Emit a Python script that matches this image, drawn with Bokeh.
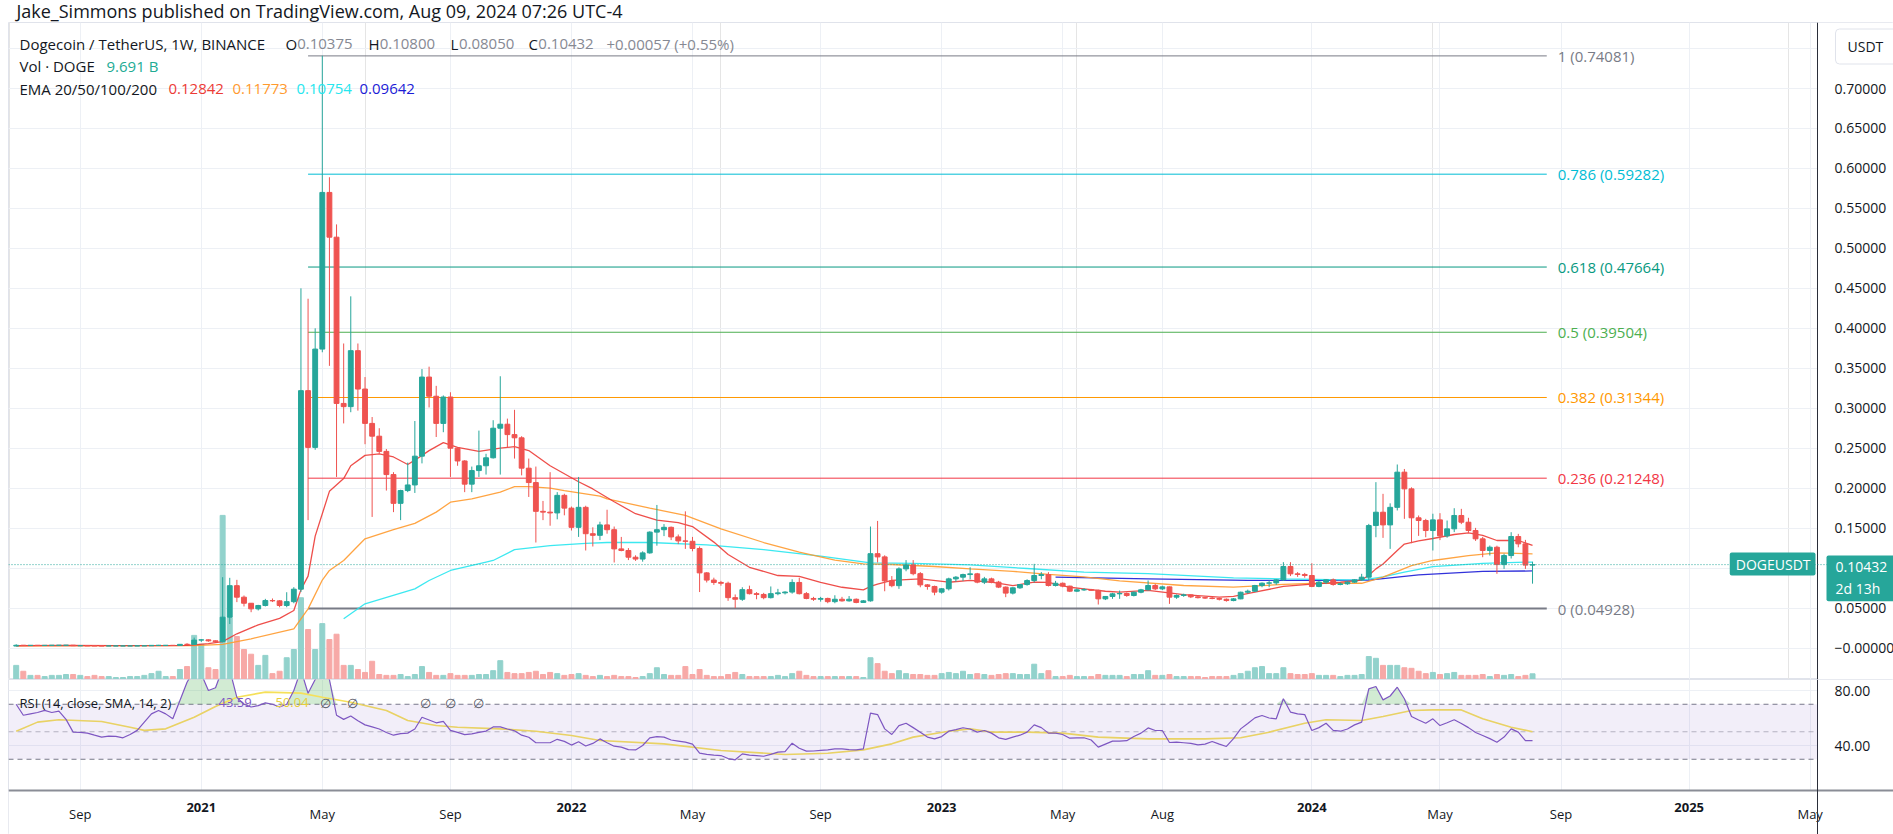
import pandas as pd
from bokeh.plotting import figure
from bokeh.models import (Range1d, FixedTicker, PrintfTickFormatter, Grid, Span,
                          BoxAnnotation, Label, ColumnDataSource)
from bokeh.layouts import column
from bokeh.embed import file_html
from bokeh.resources import INLINE
from bokeh.core.properties import value

# ----------------------------------------------------------------- data
first_week = "2020-07-06"          # weekly bars (Monday open), bar index 1
opens = [
    .00245, .00340, .00320, .00330, .00320, .00330, .00340, .00340, .00350, .00290,
    .00290, .00280, .00270, .00260, .00260, .00260, .00260, .00260, .00270, .00280,
    .00330, .00330, .00330, .00320, .00460, .00450, .00990, .01020, .00900, .00790,
    .03860, .07800, .06360, .05600, .04900, .05320, .05940, .05900, .05320, .05800,
    .07360, .32200, .25100, .37400, .57000, .51400, .30600, .30200, .37200, .32400,
    .28100, .26500, .24600, .21700, .18100, .19700, .20400, .24000, .33900, .31500,
    .28100, .31400, .25000, .23400, .20500, .22200, .22800, .23800, .27500, .28000,
    .26700, .26300, .22500, .20700, .17100, .17000, .16900, .19100, .17500, .15100,
    .17600, .14300, .14100, .15400, .14800, .12400, .12200, .11360, .11130, .11900,
    .14500, .14800, .15100, .13900, .13400, .13350, .12450, .09400, .08500, .08200,
    .08100, .06300, .06100, .07300, .06800, .06700, .06300, .06800, .06900, .07000,
    .08200, .06800, .06200, .06100, .06200, .05800, .06100, .05900, .06100, .05700,
    .05900, .11800, .11400, .08400, .07800, .09900, .10400, .09300, .07900, .07700,
    .06990, .07410, .08650, .08860, .09190, .09280, .08240, .08650, .08240, .07620,
    .06870, .07530, .07940, .08440, .09070, .09190, .07820, .08100, .07740, .07110,
    .07280, .07300, .07220, .06150, .06450, .06780, .06820, .06570, .06980, .07280,
    .07820, .07400, .07650, .06360, .06570, .06650, .06400, .06300, .06250, .06200,
    .06100, .05940, .06150, .06980, .07110, .07820, .08110, .08150, .08530, .10200,
    .09280, .09200, .09070, .07700, .08240, .08530, .07950, .08030, .08240, .08530,
    .08860, .15320, .16990, .15400, .17600, .22000, .19910, .16290, .15950, .14700,
    .16030, .14030, .14910, .16580, .15740, .14700, .13660, .12200, .12610, .10440,
    .11570, .13950, .13030, .10375]
highs = [
    .00470, .00370, .00340, .00370, .00340, .00350, .00370, .00360, .00370, .00300,
    .00300, .00290, .00280, .00270, .00270, .00270, .00270, .00280, .00290, .00350,
    .00390, .00350, .00340, .00480, .00600, .01300, .01120, .01080, .00940, .08860,
    .08780, .08530, .06570, .05630, .05400, .06150, .06200, .06000, .06980, .07610,
    .45000, .43700, .40000, .74100, .58900, .53000, .38100, .44000, .38100, .33900,
    .28900, .27500, .24900, .22000, .19800, .23200, .28400, .34900, .35200, .32800,
    .31600, .32000, .25100, .23500, .22700, .27200, .24300, .28500, .34000, .28700,
    .29800, .26500, .23700, .22700, .18400, .22000, .19500, .19300, .17700, .21400,
    .17800, .15100, .15800, .17300, .15200, .13900, .12500, .11600, .12100, .14600,
    .17900, .15500, .15200, .14200, .17100, .13900, .12700, .09500, .08800, .08400,
    .08300, .06700, .07600, .07800, .07000, .06900, .07700, .07400, .07100, .08600,
    .08800, .07000, .06400, .06400, .06300, .06600, .06400, .06500, .06200, .06000,
    .15200, .15900, .11600, .09000, .10100, .11000, .11000, .09500, .08000, .07800,
    .07500, .08800, .09000, .09300, .10100, .09400, .08900, .08800, .08400, .07700,
    .07600, .08000, .08600, .10530, .09500, .09490, .08400, .08200, .07800, .07450,
    .07500, .07400, .07300, .06500, .06900, .07190, .06950, .07050, .07400, .08450,
    .08030, .07800, .07700, .06700, .06800, .06700, .06500, .06400, .06400, .06300,
    .06200, .06250, .07050, .07300, .07900, .08200, .08450, .08600, .10740, .10740,
    .09500, .09400, .10610, .08400, .08600, .08700, .08200, .08350, .08600, .09280,
    .15530, .20750, .19290, .18100, .22960, .22400, .20100, .16580, .16160, .16800,
    .16870, .15950, .17490, .17410, .16290, .15030, .13900, .12820, .12800, .11800,
    .14490, .14280, .13530, .10800]
lows = [
    .00240, .00310, .00310, .00300, .00300, .00310, .00320, .00330, .00270, .00270,
    .00270, .00250, .00250, .00250, .00250, .00250, .00250, .00250, .00260, .00270,
    .00290, .00310, .00310, .00320, .00400, .00440, .00760, .00780, .00750, .00720,
    .03000, .05740, .05200, .04480, .04700, .05200, .05750, .05100, .05100, .05600,
    .07000, .16000, .24800, .37000, .35300, .21400, .28100, .29500, .29700, .25500,
    .16400, .24300, .19700, .17000, .16000, .19500, .19400, .23100, .30100, .26400,
    .27000, .21400, .22800, .19500, .19500, .21400, .21700, .23700, .21700, .25100,
    .23700, .21600, .18900, .13200, .16000, .15300, .16100, .16600, .14700, .13900,
    .12200, .12700, .13500, .14300, .10700, .12100, .11000, .10900, .10800, .11800,
    .12800, .14000, .13500, .13000, .12400, .12100, .07000, .08200, .07900, .07800,
    .05900, .05000, .05900, .06700, .06100, .06100, .06200, .06600, .06700, .06800,
    .06700, .06100, .05900, .05800, .05600, .05600, .05800, .05800, .05600, .05700,
    .05800, .10700, .07100, .07600, .07400, .09600, .09100, .07600, .07300, .06600,
    .06800, .07200, .08300, .08400, .08600, .08100, .08000, .08100, .07500, .06360,
    .06700, .07400, .07800, .08200, .08600, .07700, .07700, .07600, .07000, .07000,
    .07150, .07150, .05440, .06000, .06150, .06150, .06400, .06450, .06850, .07200,
    .07250, .07250, .05520, .06150, .06400, .06250, .06200, .06150, .06100, .05950,
    .05800, .05850, .06100, .06800, .07000, .07600, .07610, .07900, .08400, .09000,
    .08900, .08800, .07610, .07600, .08000, .07800, .07850, .07900, .08150, .08400,
    .08500, .13860, .13780, .12400, .17210, .16160, .13110, .14030, .13860, .12200,
    .13500, .13800, .14500, .15500, .14400, .13400, .11360, .11570, .09280, .09900,
    .11200, .12600, .09900, .08050]
closes = [
    .00340, .00320, .00330, .00320, .00330, .00340, .00340, .00350, .00290, .00290,
    .00280, .00270, .00260, .00260, .00260, .00260, .00260, .00270, .00280, .00330,
    .00330, .00330, .00320, .00460, .00450, .00990, .01020, .00900, .00790, .03860,
    .07800, .06360, .05600, .04900, .05320, .05940, .05900, .05320, .05800, .07360,
    .32200, .25100, .37400, .57000, .51400, .30600, .30200, .37200, .32400, .28100,
    .26500, .24600, .21700, .18100, .19700, .20400, .24000, .33900, .31500, .28100,
    .31400, .25000, .23400, .20500, .22200, .22800, .23800, .27500, .28000, .26700,
    .26300, .22500, .20700, .17100, .17000, .16900, .19100, .17500, .15100, .17600,
    .14300, .14100, .15400, .14800, .12400, .12200, .11360, .11130, .11900, .14500,
    .14800, .15100, .13900, .13400, .13350, .12450, .09400, .08500, .08200, .08100,
    .06300, .06100, .07300, .06800, .06700, .06300, .06800, .06900, .07000, .08200,
    .06800, .06200, .06100, .06200, .05800, .06100, .05900, .06100, .05700, .05900,
    .11800, .11400, .08400, .07800, .09900, .10400, .09300, .07900, .07700, .06990,
    .07410, .08650, .08860, .09190, .09280, .08240, .08650, .08240, .07620, .06870,
    .07530, .07940, .08440, .09070, .09190, .07820, .08100, .07740, .07110, .07280,
    .07300, .07220, .06150, .06450, .06780, .06820, .06570, .06980, .07280, .07820,
    .07400, .07650, .06360, .06570, .06650, .06400, .06300, .06250, .06200, .06100,
    .05940, .06150, .06980, .07110, .07820, .08110, .08150, .08530, .10200, .09280,
    .09200, .09070, .07700, .08240, .08530, .07950, .08030, .08240, .08530, .08860,
    .15320, .16990, .15400, .17600, .22000, .19910, .16290, .15950, .14700, .16030,
    .14030, .14910, .16580, .15740, .14700, .13660, .12200, .12610, .10440, .11570,
    .13950, .13030, .10375, .10432]
volumes_b = [
    24, 14, 7, 7, 5, 7, 7, 8.5, 8.5, 7,
    5, 7, 5, 5, 3.4, 3.4, 5, 5, 7, 10,
    14, 5, 5, 17, 22, 75, 60, 20, 17, 279,
    105, 73, 51, 43, 24, 41, 10, 14, 37, 51,
    139, 85, 51, 95, 68, 77, 24, 24, 17, 12,
    31, 8.5, 7, 7, 8.5, 5, 8.5, 22, 12, 7,
    7, 10, 7, 7, 7, 8.5, 8.5, 15, 32, 12,
    10, 10, 12, 14, 8.5, 12, 10, 7, 8.5, 10,
    7, 5, 7, 5, 7, 5, 5, 3.4, 5, 10,
    20, 8.5, 7, 7, 22, 8.5, 17, 7, 5, 5,
    8.5, 12, 8.5, 5, 5, 5, 5, 7, 5, 10,
    14, 7, 5, 5, 5, 5, 5, 5, 5, 3.4,
    37, 27, 14, 10, 15, 10, 8.5, 8.5, 7, 7,
    10, 12, 10, 14, 8.5, 10, 8.5, 7, 8.5, 10,
    10, 8.5, 8.5, 26, 10, 15, 5, 5, 7, 5,
    5, 5, 8.5, 7, 7, 7, 5, 8.5, 8.5, 15,
    7, 7, 8.5, 5, 5, 5, 5, 3.4, 5, 5,
    5, 7, 10, 14, 20, 22, 10, 10, 20, 10,
    8.5, 8.5, 10, 7, 7, 7, 5, 7, 7, 8.5,
    39, 36, 24, 24, 24, 20, 19, 14, 10, 12,
    8.5, 10, 12, 7, 7, 7, 8.5, 5, 8.5, 7,
    8.5, 5, 7, 9.691]

ema20_idx = [1, 8, 15, 22, 25, 26, 28, 30, 32, 35, 38, 40, 41, 42, 43, 45, 47, 48, 50, 52,
             54, 56, 57, 59, 61, 63, 66, 69, 71, 73, 76, 80, 82, 85, 88, 91, 94, 96, 99, 101,
             104, 108, 111, 114, 117, 120, 121, 122, 124, 128, 132, 135, 138, 141, 144, 146,
             149, 151, 154, 156, 160, 165, 170, 172, 175, 179, 183, 187, 190, 191, 192, 193,
             195, 196, 198, 200, 203, 205, 207, 209, 212, 214]
ema20_val = [0.0028, 0.0032, 0.0029, 0.0030, 0.0034, 0.0040, 0.0055, 0.0080, 0.0178, 0.029,
             0.037, 0.047, 0.073, 0.090, 0.140, 0.196, 0.212, 0.228, 0.241, 0.243,
             0.239, 0.2296, 0.235, 0.247, 0.257, 0.251, 0.246, 0.250, 0.252, 0.247,
             0.228, 0.208, 0.199, 0.183, 0.168, 0.160, 0.157, 0.152, 0.1325, 0.117,
             0.101, 0.0907, 0.0895, 0.082, 0.076, 0.0728, 0.077, 0.080, 0.0845, 0.0866,
             0.0823, 0.0845, 0.0823, 0.078, 0.0823, 0.082, 0.076, 0.074, 0.071, 0.0698,
             0.0721, 0.0669, 0.0636, 0.0645, 0.0698, 0.077, 0.080, 0.0823, 0.085, 0.091,
             0.099, 0.105, 0.122, 0.130, 0.134, 0.137, 0.142, 0.144, 0.141, 0.1345,
             0.1345, 0.12842]
ema50_idx = [1, 15, 26, 30, 34, 40, 42, 44, 45, 47, 50, 54, 57, 60, 62, 65, 69, 71, 73, 76,
             78, 83, 84, 90, 95, 100, 106, 111, 116, 120, 124, 130, 135, 141, 146, 151, 156,
             165, 172, 179, 184, 190, 193, 197, 200, 205, 209, 214]
ema50_val = [0.0027, 0.0029, 0.0031, 0.0045, 0.0115, 0.024, 0.049, 0.085, 0.097, 0.1095,
             0.1366, 0.148, 0.156, 0.170, 0.1824, 0.1866, 0.195, 0.202, 0.202, 0.200,
             0.197, 0.190, 0.1866, 0.175, 0.166, 0.149, 0.132, 0.120, 0.110, 0.1053,
             0.1045, 0.102, 0.099, 0.096, 0.092, 0.089, 0.0840, 0.0782, 0.0761, 0.0795,
             0.081, 0.081, 0.0886, 0.103, 0.1095, 0.1157, 0.119, 0.11773]
ema100_idx = [47, 50, 57, 59, 62, 67, 68, 71, 76, 81, 84, 90, 98, 106, 114, 121, 127, 135,
              143, 151, 160, 172, 179, 190, 193, 196, 200, 207, 214]
ema100_val = [0.0365, 0.0553, 0.074, 0.0845, 0.097, 0.1074, 0.1095, 0.123, 0.128, 0.131,
              0.132, 0.132, 0.129, 0.123, 0.115, 0.1065, 0.106, 0.104, 0.0995, 0.095,
              0.093, 0.0878, 0.0866, 0.085, 0.089, 0.0949, 0.1019, 0.106, 0.10754]
ema200_idx = [147, 160, 174, 184, 191, 198, 207, 214]
ema200_val = [0.0886, 0.0866, 0.0845, 0.0845, 0.085, 0.0916, 0.0958, 0.09642]

rsi_val = [
    70, 62, 63, 64, 65.5, 64, 65, 59, 49.7, 49.5,
    49, 47.5, 46.1, 46.8, 46.6, 45.6, 48, 51, 57, 63,
    65.5, 63, 59.4, 72.7, 86, 95, 92, 80, 82, 96,
    95, 75, 70, 68, 69, 71, 70, 68, 70, 80,
    95, 78, 88, 95, 88, 62, 59, 61.5, 58, 55,
    53.5, 52, 49.5, 47.5, 48.6, 49, 52, 60.5, 58.5, 56.5,
    57.5, 51, 49.5, 47.9, 48.5, 49.5, 50.5, 53.5, 53.5, 52,
    50.7, 47.5, 46, 42, 42, 42, 44.5, 43, 40.3, 42.7,
    39.6, 41.5, 44.8, 42, 39.5, 38.8, 37, 36.8, 40, 45.6,
    46.5, 46.1, 44, 43.2, 42.4, 41, 34.4, 33.5, 33, 32.7,
    30.5, 29.6, 33.9, 33, 32.7, 32.2, 33.5, 35.2, 35.5, 41.7,
    38, 35.9, 36, 36.4, 36.8, 37.5, 37.6, 37, 36.8, 37.6,
    63.5, 62.5, 52.1, 48, 54.5, 56.2, 53, 49.7, 46.1, 44.8,
    46.5, 50.4, 51.5, 52.9, 52, 49.7, 50.9, 49, 45.6, 44.5,
    46.1, 47.5, 49.7, 55, 53, 49, 49, 48, 45.3, 45.5,
    45.6, 44, 38.8, 41, 43.2, 43.2, 43.5, 46.6, 49, 52.8,
    50.9, 50.9, 42.2, 42.5, 42, 41.5, 40.5, 41, 42.9, 41,
    39.3, 45, 52.1, 56, 60.1, 61.8, 60, 59.4, 74, 64.3,
    63, 62.5, 50.9, 53, 56.2, 51, 50.4, 52, 55, 57,
    81.2, 82.9, 73.2, 76, 82.4, 74, 61.1, 58.5, 56.2, 59.4,
    54.5, 56.5, 58.7, 56, 53, 49.5, 47.3, 45, 42.4, 46.1,
    52.1, 49.7, 43.6, 43.59]
rsi_ma_idx = [1, 4, 7, 13, 17, 19, 22, 26, 29, 32, 36, 41, 44, 48, 53, 56, 60, 63, 69, 74,
              79, 83, 92, 100, 109, 115, 120, 124, 127, 132, 135, 138, 143, 148, 153, 160,
              168, 173, 177, 182, 185, 190, 193, 197, 200, 204, 207, 211, 214]
rsi_ma_val = [50.4, 57, 58.7, 57.5, 53.3, 51, 52.1, 60.6, 68.4, 75.1, 78.8, 78.1, 75.1, 71.5,
              65.5, 58.2, 54.5, 53.3, 52.1, 50.4, 47.3, 43.6, 41.2, 36.4, 33.5, 34.4, 36.8,
              41.2, 46.1, 50.4, 52.1, 49.7, 49.7, 49, 46.1, 44.8, 44.8, 45.6, 49.7, 56.2,
              58.7, 58.2, 61.1, 65.5, 65.9, 65.9, 59.4, 53.3, 50.04]

fib_ratios = ["1", "0.786", "0.618", "0.5", "0.382", "0.236", "0"]
fib_prices = [0.74081, 0.59282, 0.47664, 0.39504, 0.31344, 0.21248, 0.04928]
fib_anchor_idx = [42, 216]

price_ticks = [round(0.05 * i, 2) for i in range(16)]
rsi_ticks = [40, 80]
time_labels = [("2020-09", "Sep"), ("2021-01", "2021"), ("2021-05", "May"), ("2021-09", "Sep"),
               ("2022-01", "2022"), ("2022-05", "May"), ("2022-09", "Sep"), ("2023-01", "2023"),
               ("2023-05", "May"), ("2023-08", "Aug"), ("2024-01", "2024"), ("2024-05", "May"),
               ("2024-09", "Sep"), ("2025-01", "2025"), ("2025-05", "May")]

last_price = closes[-1]
vol_last = volumes_b[-1]

# ----------------------------------------------------------------- style / layout
FONT = "Open Sans"
W, H = 1893, 834
FRAME_L, AXIS_X = 8, 1817
MAIN_TOP, MAIN_BOT = 22, 679
RSI_BOT = 790
X_START, X_AT_AXIS = -0.08, 254.03          # bar index at left edge / at price axis
P_LO, P_HI = -0.0394, 0.7826
R_AT_80, R_AT_40 = 690, 745                 # page rows of the RSI 80 / 40 levels
VOL_MAX = 1117.0
UP, DN = "#26a69a", "#ef5350"
UPV, DNV = "#92d2cc", "#f7a9a7"
GRID = "#edf0f5"
TXT = "#131722"
EMA_COLORS = ["#ec3b36", "#ff9a2e", "#27e6ee", "#1c1cd6"]
FIB_COLORS = ["#787b86", "#00bcd4", "#089981", "#4caf50", "#ff9800", "#f23645", "#787b86"]

XS = (X_AT_AXIS - X_START) / (AXIS_X - FRAME_L)


def mx(px):
    return X_START + (px - FRAME_L) * XS


def my(py):
    return P_LO + (MAIN_BOT - py) * (P_HI - P_LO) / (MAIN_BOT - MAIN_TOP)


def ry(py):
    return 80 - (py - R_AT_80) * 40 / (R_AT_40 - R_AT_80)


week0 = pd.Timestamp(first_week) - pd.Timedelta(days=7)


def bar_of(month):
    d = pd.Timestamp(month + "-01")
    return -(-(d - week0).days // 7)


tick_idx = [bar_of(m) for m, _ in time_labels]

n = len(closes)
bars = list(range(1, n + 1))
up = [c >= o for o, c in zip(opens, closes)]
src = ColumnDataSource(dict(
    x=bars, o=opens, h=highs, l=lows, c=closes,
    top=[max(o, c) for o, c in zip(opens, closes)],
    bot=[min(o, c) for o, c in zip(opens, closes)],
    col=[UP if u else DN for u in up],
    vcol=[UPV if u else DNV for u in up],
    vol=volumes_b))

xr = Range1d(X_START, mx(W))


def label(fig, x, y, text, color=TXT, size="13px", align="left", baseline="middle",
          style="normal", **kw):
    lab = Label(x=x, y=y, text=text, text_color=color, text_font=FONT,
                text_font_size=size, text_align=align, text_baseline=baseline,
                text_font_style=style, **kw)
    fig.add_layout(lab)
    return lab


def style_axis(ax, size="14px"):
    ax.major_tick_line_color = None
    ax.minor_tick_line_color = None
    ax.major_label_text_font = FONT
    ax.major_label_text_font_size = size
    ax.major_label_text_color = TXT


# ----------------------------------------------------------------- header strip
hdr = figure(width=W, height=MAIN_TOP, x_range=Range1d(0, W), y_range=Range1d(MAIN_TOP, 0),
             x_axis_location=None, y_axis_location=None, toolbar_location=None,
             output_backend="svg", min_border=0, outline_line_color=None)
hdr.grid.visible = False
hdr.text(x=[8], y=[10], text=["Jake_Simmons published on TradingView.com, Aug 09, 2024 07:26 UTC-4"],
         text_font=value(FONT), text_font_size="18px", text_color=TXT, text_baseline="middle")

# ----------------------------------------------------------------- main pane
p = figure(width=W, height=MAIN_BOT - MAIN_TOP, x_range=xr, y_range=Range1d(P_LO, P_HI),
           y_axis_location="right", x_axis_location=None, toolbar_location=None,
           output_backend="svg", min_border_left=FRAME_L, min_border_right=0,
           min_border_top=0, min_border_bottom=0, outline_line_color="#e0e3eb",
           background_fill_color="white", border_fill_color="white")
p.extra_y_ranges = {"vol": Range1d(0, VOL_MAX)}
yax = p.yaxis[0]
yax.fixed_location = mx(AXIS_X)
yax.ticker = FixedTicker(ticks=price_ticks)
yax.formatter = PrintfTickFormatter(format="%.5f")
yax.major_label_overrides = {0: "\u22120.00000", 0.75: ""}
yax.axis_line_color = "#2a2e39"
yax.major_label_standoff = 11
style_axis(yax)
p.ygrid.grid_line_color = GRID
p.add_layout(Grid(dimension=0, ticker=FixedTicker(ticks=tick_idx), grid_line_color=GRID))
p.add_layout(BoxAnnotation(left=mx(AXIS_X), fill_color="white", fill_alpha=1.0,
                           line_color=None, level="underlay"))

p.vbar(x="x", top="vol", bottom=0, width=0.7, color="vcol", source=src, y_range_name="vol")

for lvl, txt, colr in zip(fib_prices, fib_ratios, FIB_COLORS):
    p.segment(x0=[fib_anchor_idx[0]], x1=[fib_anchor_idx[1]], y0=[lvl], y1=[lvl],
              line_color=colr, line_width=2 if txt == "0" else 1)
    p.text(x=[fib_anchor_idx[1]], y=[lvl], text=[f"{txt} ({lvl:.5f})"], x_offset=11,
           text_font=value(FONT), text_font_size="15px", text_color=colr,
           text_baseline="middle")

for xs, ys, colr in zip([ema200_idx, ema100_idx, ema50_idx, ema20_idx],
                        [ema200_val, ema100_val, ema50_val, ema20_val],
                        EMA_COLORS[::-1]):
    p.line(xs, ys, line_color=colr, line_width=1.3, line_alpha=0.9)

p.segment(x0="x", x1="x", y0="l", y1="h", line_color="col", line_width=1, source=src)
p.vbar(x="x", top="top", bottom="bot", width=0.68, fill_color="col", line_color="col",
       line_width=1, source=src)

p.add_layout(Span(location=last_price, dimension="width", line_color=UP,
                  line_dash="1 2", line_width=1))

# legend texts
LS = "15px"
label(p, mx(19), my(43), "Dogecoin / TetherUS, 1W, BINANCE", size=LS)
ohlc = [("O", opens[-1], 285, 11.7), ("H", highs[-1], 368, 11.2),
        ("L", lows[-1], 450, 8.4), ("C", closes[-1], 528, 9.8)]
for letter, v, px, w in ohlc:
    label(p, mx(px), my(43), letter, size=LS)
    label(p, mx(px + w), my(43), f"{v:.5f}", color="#868993", size=LS)
chg = closes[-1] - opens[-1]
label(p, mx(606), my(43), f"+{chg:.5f} (+{chg / opens[-1] * 100:.2f}%)", color="#868993", size=LS)
label(p, mx(19), my(65), "Vol \u00b7 DOGE", size=LS)
label(p, mx(106), my(65), f"{vol_last:.3f} B", color="#22ab94", size=LS)
label(p, mx(19), my(88), "EMA 20/50/100/200", size=LS)
for v, px, colr in zip([ema20_val[-1], ema50_val[-1], ema100_val[-1], ema200_val[-1]],
                       [168, 232, 296, 359], EMA_COLORS):
    label(p, mx(px), my(88), f"{v:.5f}", color=colr, size=LS)

# price tags
label(p, mx(1815), my(563.5), "DOGEUSDT", color="white", size="14px", align="right",
      background_fill_color=UP, padding=dict(left=6, right=5, top=2, bottom=2), border_radius=2)
label(p, mx(1826), my(555), f"{last_price:.5f}\n2d 13h", color="white", size="14px",
      baseline="top", background_fill_color=UP,
      padding=dict(left=9, right=9, top=1, bottom=3), border_radius=2, text_line_height=1.2)
label(p, mx(1835), my(46), "USDT", size="14px", background_fill_color="white",
      border_line_color="#e0e3eb", padding=dict(left=12, right=60, top=8, bottom=8),
      border_radius=4)

# ----------------------------------------------------------------- RSI pane + time axis
p2 = figure(width=W, height=H - MAIN_BOT, x_range=xr, y_range=Range1d(ry(H), ry(MAIN_BOT)),
            y_axis_location="right", toolbar_location=None, output_backend="svg",
            min_border_left=FRAME_L, min_border_right=0, min_border_top=0,
            min_border_bottom=0, outline_line_color="#e0e3eb",
            background_fill_color="white", border_fill_color="white")
ax2 = p2.yaxis[0]
ax2.fixed_location = mx(AXIS_X)
ax2.ticker = FixedTicker(ticks=rsi_ticks)
ax2.formatter = PrintfTickFormatter(format="%.2f")
ax2.axis_line_color = "#2a2e39"
ax2.major_label_standoff = 11
style_axis(ax2)
p2.ygrid.grid_line_color = GRID

xax = p2.xaxis[0]
xax.fixed_location = ry(RSI_BOT)
xax.ticker = FixedTicker(ticks=tick_idx)
xax.major_label_overrides = {i: ("" if t.isdigit() else t) for i, (_, t) in zip(tick_idx, time_labels)}
xax.axis_line_color = "#8a8d96"
xax.axis_line_width = 2
xax.major_label_standoff = 8
style_axis(xax, "13px")
p2.xgrid.grid_line_color = GRID
p2.add_layout(BoxAnnotation(left=mx(AXIS_X), fill_color="white", fill_alpha=1.0,
                            line_color=None, level="underlay"))
p2.add_layout(BoxAnnotation(top=ry(RSI_BOT), fill_color="white", fill_alpha=1.0,
                            line_color=None, level="underlay"))
for i, (_, t) in zip(tick_idx, time_labels):
    if t.isdigit():
        label(p2, i, ry(807), t, align="center", style="bold")

p2.add_layout(BoxAnnotation(bottom=30, top=70, right=mx(AXIS_X), fill_color="#7e57c2",
                            fill_alpha=0.1, line_color=None))
for lvl, alpha in [(70, 1.0), (50, 0.5), (30, 1.0)]:
    p2.segment(x0=[X_START], x1=[mx(AXIS_X)], y0=[lvl], y1=[lvl], line_color="#787b86",
               line_alpha=alpha, line_dash="5 4", line_width=1)

p2.varea(x=bars, y1=[70] * n, y2=[max(r, 70) for r in rsi_val], fill_color="#4caf50", fill_alpha=0.25)
p2.varea(x=bars, y1=[30] * n, y2=[min(r, 30) for r in rsi_val], fill_color="#f23645", fill_alpha=0.25)
p2.line(rsi_ma_idx, rsi_ma_val, line_color="#f5e05a", line_width=1.6)
p2.line(bars, rsi_val, line_color="#7e57c2", line_width=1.2)

label(p2, mx(19), ry(702), "RSI (14, close, SMA, 14, 2)")
label(p2, mx(218), ry(702), f"{rsi_val[-1]:.2f}", color="#7e57c2")
label(p2, mx(275), ry(702), f"{rsi_ma_val[-1]:.2f}", color="#e8cf3a")
for px in [319, 346, 419, 444, 472]:
    label(p2, mx(px), ry(702), "\u2205", color="#50535e")

layout = column(hdr, p, p2, spacing=0)
open("out.html", "w", encoding="utf-8").write(file_html(layout, INLINE, "DOGEUSDT"))
